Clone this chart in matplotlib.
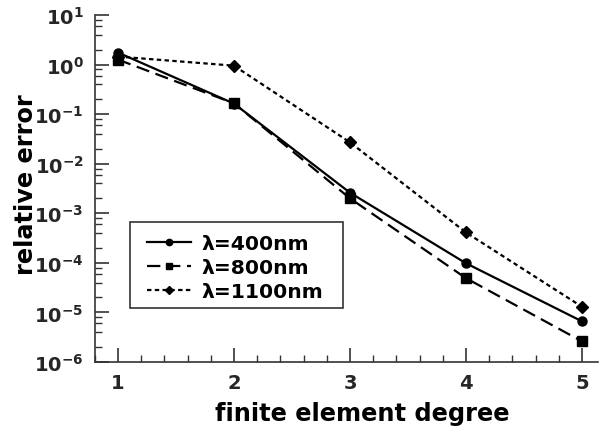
import matplotlib
matplotlib.use("Agg")
import matplotlib.pyplot as plt
from matplotlib.patches import Rectangle
from matplotlib.ticker import MultipleLocator, LogLocator, NullFormatter

degree = [1, 2, 3, 4, 5]
err_400 = [1.75, 0.163, 2.6e-3, 9.8e-5, 6.6e-6]
err_800 = [1.26, 0.165, 2.0e-3, 4.9e-5, 2.6e-6]
err_1100 = [1.45, 0.95, 2.7e-2, 4.1e-4, 1.3e-5]
labels = ["λ=400nm", "λ=800nm", "λ=1100nm"]

plt.rcParams['font.family'] = 'DejaVu Sans'
plt.rcParams['font.weight'] = 'bold'

fig = plt.figure(figsize=(6, 4.27), dpi=100)
ax = fig.add_axes([0.158, 0.15, 0.839, 0.8125])

ax.plot(degree, err_400, '-', marker='o', color='black', lw=1.6, ms=6.5, label=labels[0])
ax.plot(degree, err_800, '--', marker='s', color='black', lw=1.6, ms=6.5, dashes=(6, 3), label=labels[1])
ax.plot(degree, err_1100, ':', marker='D', color='black', lw=1.6, ms=6.5, dashes=(2, 1.5), label=labels[2])

ax.set_yscale('log')
ax.set_ylim(1e-6, 10)
ax.set_xlim(0.8, 5.14)
ax.xaxis.set_major_locator(MultipleLocator(1))
ax.xaxis.set_minor_locator(MultipleLocator(0.2))
ax.yaxis.set_major_locator(LogLocator(base=10, numticks=10))
ax.yaxis.set_minor_locator(LogLocator(base=10, subs=(2, 4, 6, 8), numticks=20))
ax.yaxis.set_minor_formatter(NullFormatter())

for s in ['top', 'right']:
    ax.spines[s].set_visible(False)
for s in ['left', 'bottom']:
    ax.spines[s].set_color('#333333')
    ax.spines[s].set_linewidth(1.2)

ax.tick_params(which='major', direction='in', length=10, width=1.2, color='#333333',
               labelsize=14, labelcolor='#262626', pad=8)
ax.tick_params(which='minor', direction='in', length=5, width=1.0, color='#333333')

ax.set_xlabel('finite element degree', fontsize=17.3, fontweight='bold')
ax.set_ylabel('relative error', fontsize=17.3, fontweight='bold')
ax.xaxis.set_label_coords(0.531, -0.112)
ax.yaxis.set_label_coords(-0.113, 0.514)

# legend frame drawn separately (wider side padding than matplotlib's borderpad gives)
ax.add_patch(Rectangle((0.0696, 0.1556), 0.4235, 0.248, transform=ax.transAxes,
                       facecolor='white', edgecolor='#333333', lw=1.2, zorder=4))
leg = ax.legend(loc='upper left', bbox_to_anchor=(0.1034, 0.369), borderaxespad=0,
                fontsize=14.6, frameon=False, handlelength=2.2, borderpad=0,
                labelspacing=0.25, handletextpad=0.5, markerscale=0.7)
leg.set_zorder(5)

fig.savefig('out.png', dpi=100)
